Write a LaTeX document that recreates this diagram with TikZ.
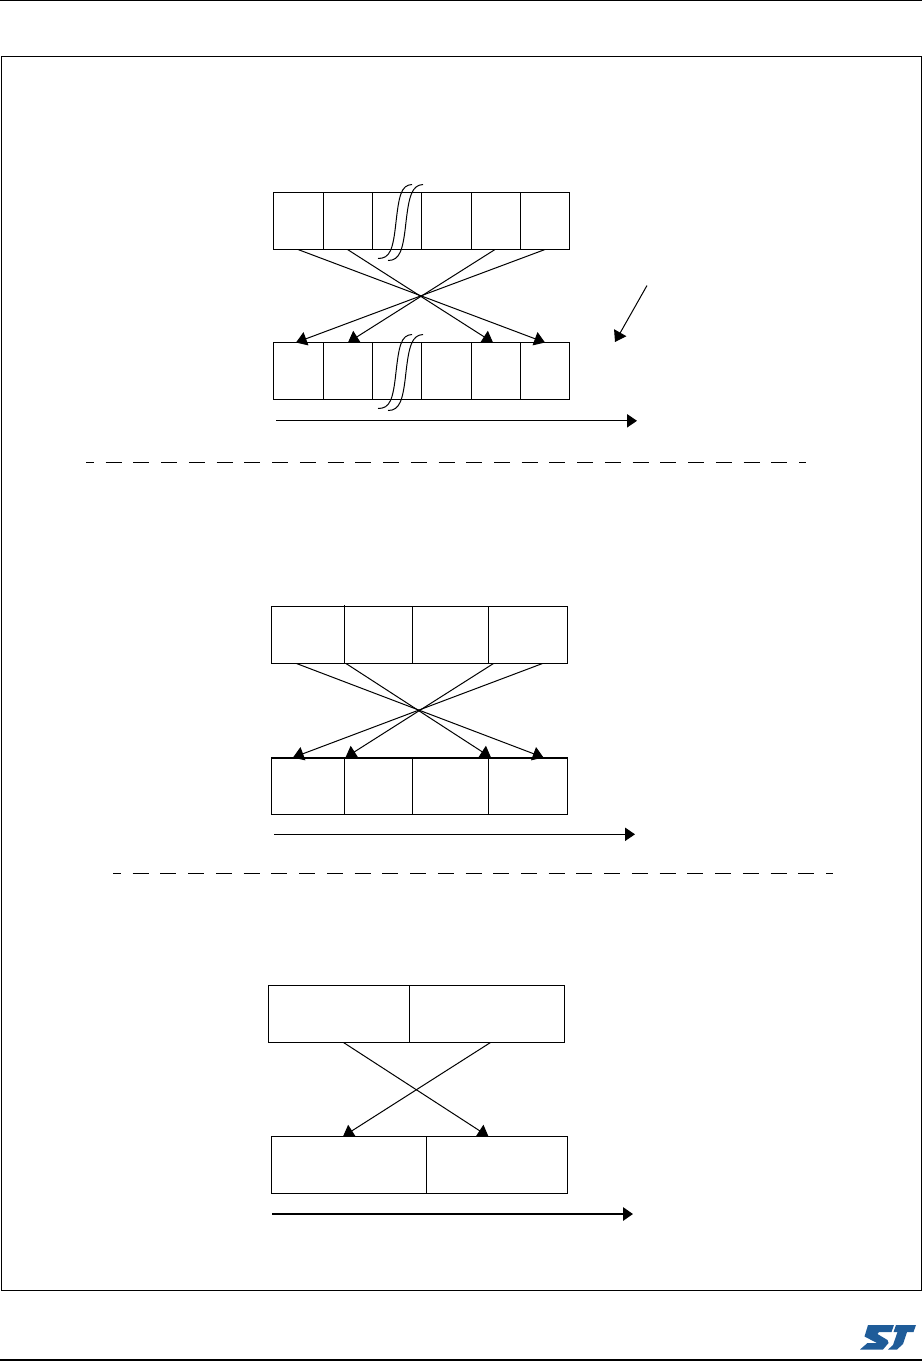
\documentclass[tikz,border=0pt]{standalone}
\usepackage{tikz}
\usetikzlibrary{arrows.meta,positioning}
\definecolor{Ink}{HTML}{000000}
\definecolor{StBlue}{HTML}{1F5C99}
\tikzset{
  cell/.style={draw=Ink,line width=0.75pt,minimum width=#1*0.75pt,minimum height=42.75pt,outer sep=0pt,inner sep=0pt},
  arrow/.style={-{Triangle[length=8pt,width=10.5pt]},line width=0.75pt,draw=Ink},
  timeArrow/.style={-{Triangle[length=7.5pt,width=10pt]},line width=0.75pt,draw=Ink},
  wave/.style={line width=0.75pt,draw=Ink},
  sepLine/.style={line width=0.75pt,draw=Ink,dash pattern=on 12pt off 8.8pt}
}
\begin{document}
\begin{tikzpicture}[x=0.75pt,y=-0.75pt,node distance=0pt]
\useasboundingbox (0,0) rectangle (922,1361);
\draw[line width=1.1pt] (0,0.5)--(922,0.5);
\draw[line width=1.1pt] (0,1360)--(922,1360);
\draw[line width=0.75pt] (1.5,56.8) rectangle (921.5,1290.5);
% first pair of rows
\node[cell=50,anchor=west] (ta1) at (273.5,221) {};
\node[cell=49,right=of ta1] (ta2) {};
\node[cell=49,right=of ta2] (ta3) {};
\node[cell=50,right=of ta3] (ta4) {};
\node[cell=49,right=of ta4] (ta5) {};
\node[cell=49,right=of ta5] (ta6) {};
\node[cell=50,anchor=west] (ba1) at (273.5,371) {};
\node[cell=49,right=of ba1] (ba2) {};
\node[cell=49,right=of ba2] (ba3) {};
\node[cell=50,right=of ba3] (ba4) {};
\node[cell=49,right=of ba4] (ba5) {};
\node[cell=49,right=of ba5] (ba6) {};
\draw[arrow] ([shift={(24.5,0)}]ta1.south west)--([shift={(24.5,0)}]ba6.north west);
\draw[arrow] ([shift={(24,0)}]ta2.south west)--([shift={(21.5,0)}]ba5.north west);
\draw[arrow] ([shift={(23.5,0)}]ta5.south west)--([shift={(24.5,0)}]ba2.north west);
\draw[arrow] ([shift={(24.5,0)}]ta6.south west)--([shift={(22.5,0)}]ba1.north west);
\draw[wave] (378,258.5) .. controls (390,258.5) and (393,250) .. (396,222) .. controls (399,196) and (401,185) .. (412,184.5);
\draw[wave] (388,260.5) .. controls (400,260.5) and (403,250) .. (406,222) .. controls (409,196) and (412,185) .. (423,184.5);
\draw[wave] (378,408.5) .. controls (390,408.5) and (393,400) .. (396,372) .. controls (399,346) and (401,335) .. (412,334.5);
\draw[wave] (388,410.5) .. controls (400,410.5) and (403,400) .. (406,372) .. controls (409,346) and (412,335) .. (423,334.5);
\coordinate (noteEnd) at (647,285.5);
\coordinate (noteTip) at (615,342);
\draw[arrow] (noteEnd)--(noteTip);
\coordinate (timeA) at (276,420.8);
\coordinate (timeAEnd) at (637,420.8);
\draw[timeArrow] (timeA)--(timeAEnd);
\coordinate (sepA) at (86,462);
\coordinate (sepAEnd) at (806,462);
\draw[sepLine,dash phase=6pt] (sepA)--(sepAEnd);
% second pair of rows
\node[cell=73,anchor=west] (tb1) at (271.5,635) {};
\node[cell=68,right=of tb1] (tb2) {};
\node[cell=76,right=of tb2] (tb3) {};
\node[cell=79,right=of tb3] (tb4) {};
\node[cell=73,anchor=west] (bb1) at (271.5,786) {};
\node[cell=68,right=of bb1] (bb2) {};
\node[cell=76,right=of bb2] (bb3) {};
\node[cell=79,right=of bb3] (bb4) {};
\draw[line width=0.75pt] (tb1.north east)--++(0,-2);
\draw[line width=1.5pt] (bb1.north west)--(bb4.north east);
\draw[arrow] ([shift={(25,0)}]tb1.south west)--([shift={(55,0)}]bb4.north west);
\draw[arrow] ([shift={(1.5,0)}]tb2.south west)--([shift={(2.5,0)}]bb4.north west);
\draw[arrow] ([shift={(5,0)}]tb4.south west)--([shift={(1,0)}]bb2.north west);
\draw[arrow] ([shift={(54,0)}]tb4.south west)--([shift={(21.5,0)}]bb1.north west);
\coordinate (timeB) at (274,834.3);
\coordinate (timeBEnd) at (635,834.3);
\draw[timeArrow] (timeB)--(timeBEnd);
\coordinate (sepB) at (113,873.3);
\coordinate (sepBEnd) at (833,873.3);
\draw[sepLine,dash phase=6pt] (sepB)--(sepBEnd);
% third pair of rows
\node[cell=141,anchor=west] (tc1) at (268.5,1014) {};
\node[cell=155,right=of tc1] (tc2) {};
\node[cell=155,anchor=west] (bc1) at (271.5,1165) {};
\node[cell=141,right=of bc1] (bc2) {};
\draw[arrow] ([shift={(75,0)}]tc1.south west)--([shift={(62,0)}]bc2.north west);
\draw[arrow] ([shift={(81,0)}]tc2.south west)--([shift={(71.5,0)}]bc1.north west);
\coordinate (timeC) at (272,1214);
\coordinate (timeCEnd) at (633,1214);
\draw[timeArrow,line width=1.5pt] (timeC)--(timeCEnd);
% logo
\fill[StBlue] (868,1325)--(894,1325)--(891.5,1332)--(879,1332)--(877.5,1334)--(887.5,1340)--(888.5,1343)--(883,1349.5)--(860,1349.5)--(867.5,1343)--(877,1343)--(864.5,1336.5)--cycle;
\fill[StBlue] (896,1325)--(916,1325)--(913.5,1332)--(907,1332)--(903,1344)--(897,1349.5)--(888,1349.5)--(893,1345)--(897.5,1332)--(893.5,1332)--cycle;
\end{tikzpicture}
\end{document}
